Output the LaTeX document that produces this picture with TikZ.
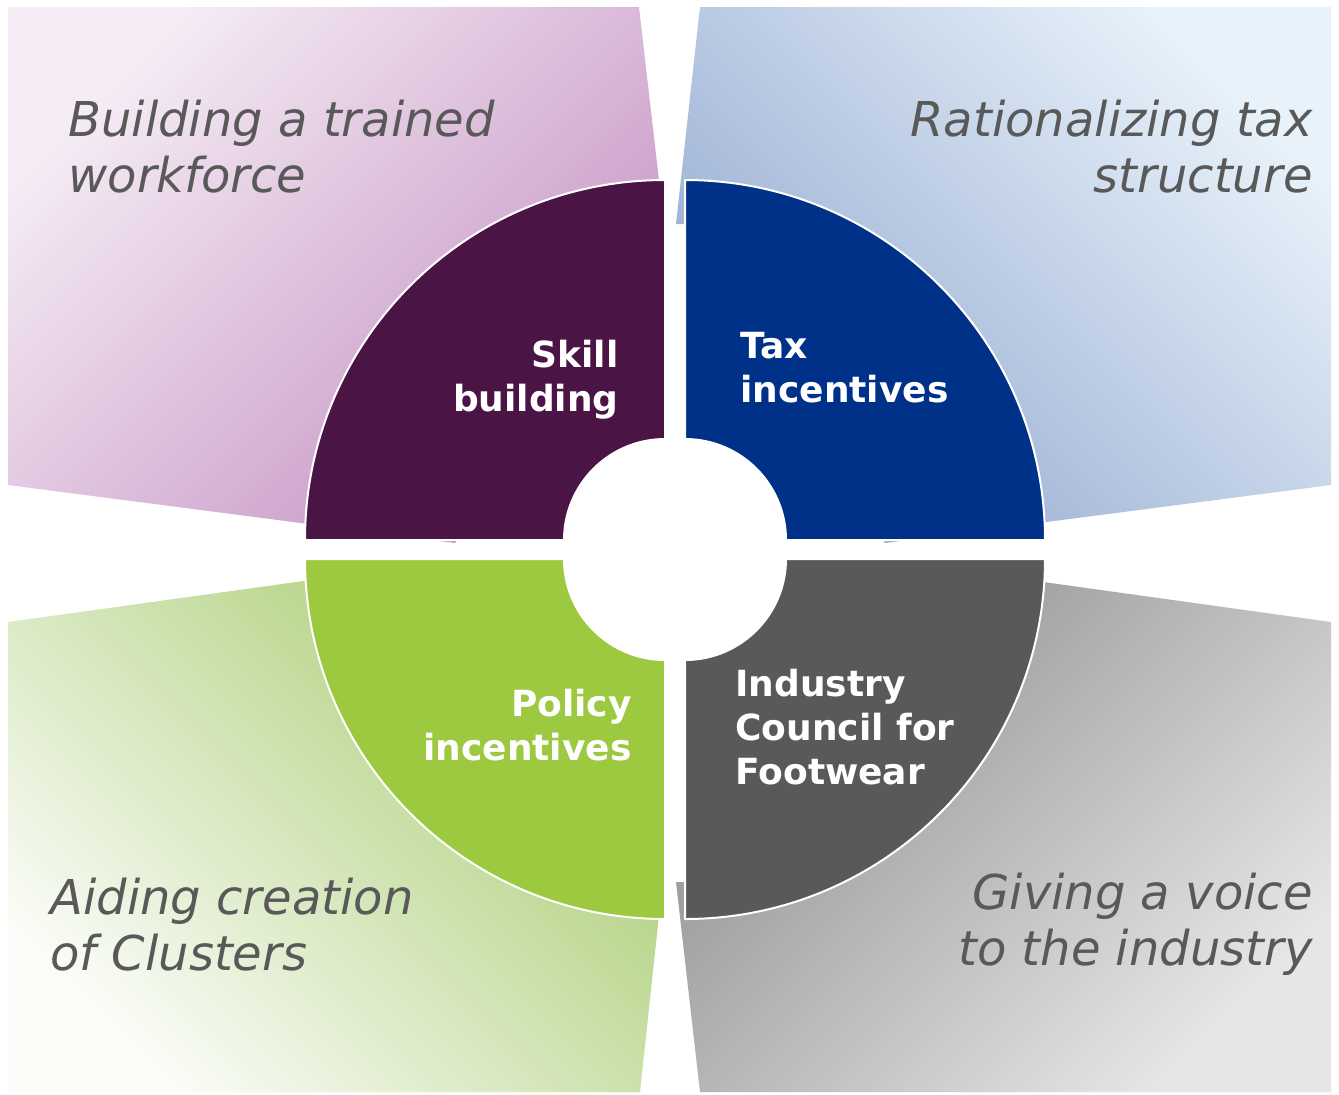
\documentclass[tikz,border=0pt]{standalone}
\usepackage{fontspec}
\setmainfont{DejaVu Sans}

\definecolor{skillc}{HTML}{4A1445}
\definecolor{taxc}{HTML}{003189}
\definecolor{policyc}{HTML}{9DC940}
\definecolor{councilc}{HTML}{595959}
\definecolor{notec}{HTML}{595959}
% background shades
\definecolor{skillhi}{HTML}{F5ECF5}
\definecolor{skilllo}{HTML}{C490C1}
\definecolor{taxhi}{HTML}{E8F2FA}
\definecolor{taxlo}{HTML}{92A8CF}
\definecolor{policyhi}{HTML}{FAFCF7}
\definecolor{policylo}{HTML}{A6CB6E}
\definecolor{councilhi}{HTML}{E6E6E6}
\definecolor{councillo}{HTML}{8E8E8E}

\tikzstyle{seg}=[draw=white, line width=1pt]
\tikzstyle{lbl}=[text=white, inner sep=0pt, font=\bfseries\fontsize{18}{22}\selectfont]
\tikzstyle{note}=[text=notec, inner sep=0pt, font=\itshape\fontsize{24}{28}\selectfont]

\begin{document}
\begin{tikzpicture}[x=0.5pt,y=-0.5pt]
  \fill[white] (0,0) rectangle (1339,1094);
  \useasboundingbox (0,0) rectangle (1339,1094);

  % shaded backgrounds
  \path[top color=skillhi, bottom color=skilllo, shading angle=45]
    (8,7) -- (639,7) -- (664,224) -- (630,224) -- (455,543) -- (8,485) -- cycle;
  \path[top color=taxhi, bottom color=taxlo, shading angle=-45]
    (700,7) -- (1331,7) -- (1331,485) -- (885,543) -- (720,224) -- (676,224) -- cycle;
  \path[top color=policylo, bottom color=policyhi, shading angle=-45]
    (8,1092) -- (8,622) -- (455,560) -- (630,878) -- (663,878) -- (640,1092) -- cycle;
  \path[top color=councillo, bottom color=councilhi, shading angle=45]
    (1331,1092) -- (1331,622) -- (885,560) -- (720,882) -- (676,882) -- (700,1092) -- cycle;

  % ring quarters
  \path[seg, fill=skillc] (564,540) -- (305,540) arc[start angle=180, end angle=270, radius=360]
    -- (665,439) arc[start angle=270, end angle=180, radius=101] -- cycle;
  \path[seg, fill=taxc] (786,540) -- (1045,540) arc[start angle=0, end angle=-90, radius=360]
    -- (685,439) arc[start angle=-90, end angle=0, radius=101] -- cycle;
  \path[seg, fill=policyc] (564,559) -- (305,559) arc[start angle=180, end angle=90, radius=360]
    -- (665,660) arc[start angle=90, end angle=180, radius=101] -- cycle;
  \path[seg, fill=councilc] (786,559) -- (1045,559) arc[start angle=0, end angle=90, radius=360]
    -- (685,660) arc[start angle=90, end angle=0, radius=101] -- cycle;

  % base anchor sits on the last line
  \node (skill) [lbl, anchor=base east, align=right] at (619,411) {Skill\\building};
  \node (tax) [lbl, anchor=base west, align=left] at (740,402) {Tax\\incentives};
  \node (policy) [lbl, anchor=base east, align=right] at (632,760) {Policy\\incentives};
  \node (council) [lbl, anchor=base west, align=left] at (735,784) {Industry\\Council for\\Footwear};

  \node (train) [note, anchor=base west, align=left] at (68,192) {Building a trained\\workforce};
  \node (rational) [note, anchor=base east, align=right] at (1313,192) {Rationalizing tax\\structure};
  \node (clusters) [note, anchor=base west, align=left] at (50,970) {Aiding creation\\of Clusters};
  \node (voice) [note, anchor=base east, align=right] at (1313,965) {Giving a voice\\to the industry};
\end{tikzpicture}
\end{document}
